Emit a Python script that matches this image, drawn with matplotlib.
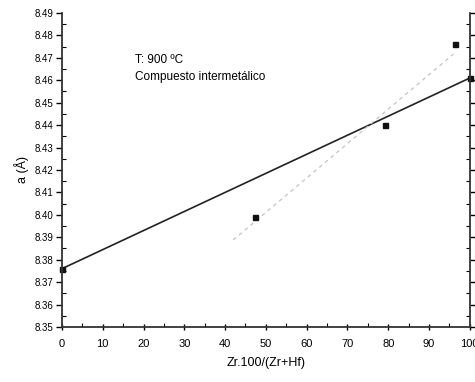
import matplotlib
matplotlib.use("Agg")
import matplotlib.pyplot as plt
import numpy as np
from matplotlib.ticker import MultipleLocator

plt.rcParams['font.family'] = ['Liberation Sans', 'DejaVu Sans']

# composition vs lattice parameter
zr = np.array([0, 47.3, 79.2, 96.3, 100])
a_lat = np.array([8.376, 8.399, 8.440, 8.476, 8.461])

# solid line: Vegard line between pure ends
vx = np.array([zr[0], zr[-1]])
vy = np.array([a_lat[0], a_lat[-1]])

# dotted line: fit of intermediate points
fit = np.polyfit(zr[1:4], a_lat[1:4], 1)
fx = np.array([42, 96])
fy = np.polyval(fit, fx)

fig = plt.figure(figsize=(4.75, 3.82), dpi=100)
ax = fig.add_axes([0.1305, 0.144, 0.8585, 0.822])

ax.plot(vx, vy, color='#222222', lw=1.2)
ax.plot(fx, fy, color='#c4c4c4', lw=0.9, ls=(0, (3, 3)))
ax.plot(zr, a_lat, 's', color='#111111', ms=3.6, clip_on=False)

ax.set_xlim(0, 100)
ax.set_ylim(8.35, 8.49)
ax.xaxis.set_major_locator(MultipleLocator(10))
ax.xaxis.set_minor_locator(MultipleLocator(5))
ax.yaxis.set_major_locator(MultipleLocator(0.01))
ax.yaxis.set_minor_locator(MultipleLocator(0.005))
ax.yaxis.set_major_formatter(matplotlib.ticker.FormatStrFormatter('%.2f'))

ax.spines['top'].set_visible(False)
for s in ['left', 'bottom', 'right']:
    ax.spines[s].set_linewidth(1.3)
    ax.spines[s].set_color('#333333')

ax.tick_params(axis='y', which='major', direction='out', length=4, width=1, labelsize=7, pad=2, right=True)
ax.tick_params(axis='y', which='minor', direction='in', length=3, width=0.8, right=True)
ax.tick_params(axis='x', which='major', direction='inout', length=5, width=1, labelsize=8, pad=6)
ax.tick_params(axis='x', which='minor', direction='in', length=3, width=0.8)

ax.set_xlabel('Zr.100/(Zr+Hf)', fontsize=9, labelpad=6)
ax.set_ylabel('a (Å)', fontsize=9, labelpad=4)

ax.text(0.18, 0.84, 'T: 900 ºC', transform=ax.transAxes, fontsize=8.5)
ax.text(0.18, 0.785, 'Compuesto intermetálico', transform=ax.transAxes, fontsize=8.5)

fig.savefig('out.png', dpi=100)
